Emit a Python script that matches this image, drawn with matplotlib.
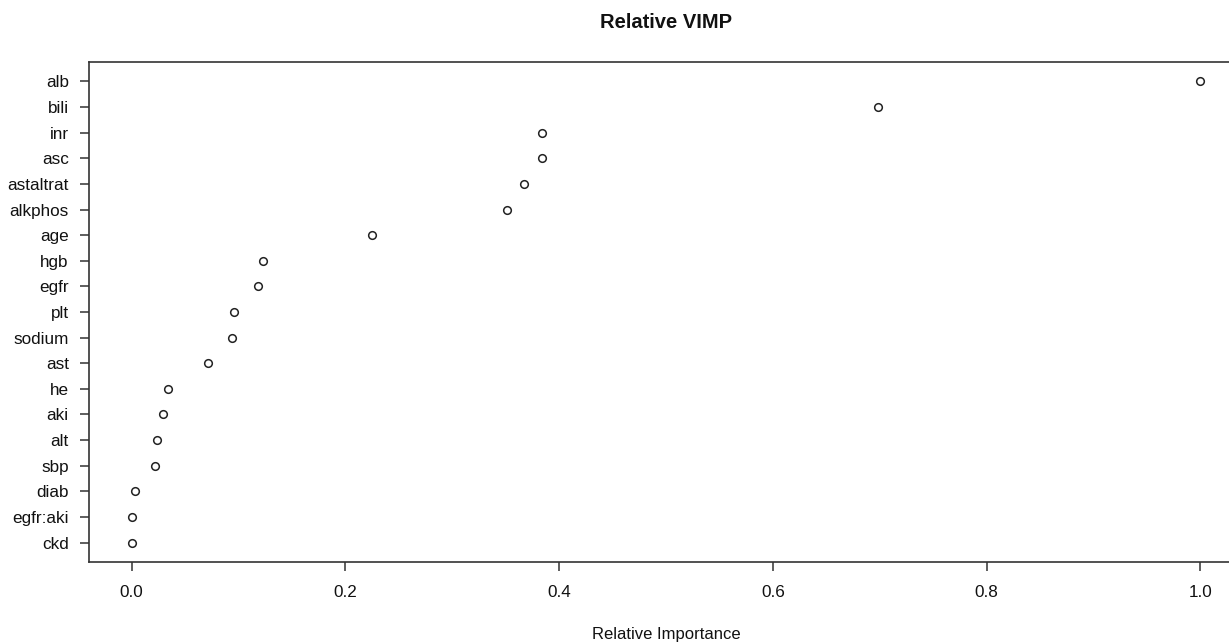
import numpy as np
import matplotlib
matplotlib.use("Agg")
import matplotlib.pyplot as plt

plt.rcParams['font.family'] = ['Liberation Sans', 'DejaVu Sans']

# variables, top to bottom as shown
variables = ['alb', 'bili', 'inr', 'asc', 'astaltrat', 'alkphos', 'age', 'hgb',
             'egfr', 'plt', 'sodium', 'ast', 'he', 'aki', 'alt', 'sbp', 'diab',
             'egfr:aki', 'ckd']
importance = [1.0, 0.698, 0.384, 0.384, 0.367, 0.351, 0.225, 0.1225,
              0.118, 0.096, 0.0935, 0.071, 0.034, 0.029, 0.024, 0.0215, 0.003,
              0.0, 0.0]
xticks = [0.0, 0.2, 0.4, 0.6, 0.8, 1.0]

n = len(variables)
ypos = np.arange(n, 0, -1)

fig = plt.figure(figsize=(12.29, 6.43), dpi=100)
ax = fig.add_axes([89 / 1229, 81 / 643, 1154 / 1229, 500 / 643])

ax.plot(importance, ypos, 'o', mfc='none', mec='#222222', mew=1.1, ms=5.5,
        linestyle='none', clip_on=False)

ax.set_xlim(-0.04, 1.04)
ax.set_ylim(0.24, n + 0.76)
ax.set_yticks(ypos)
ax.set_yticklabels(variables)
ax.set_xticks(xticks)
ax.set_xticklabels([f'{t:.1f}' for t in xticks])

for s in ax.spines.values():
    s.set_color('#333333')
    s.set_linewidth(1.2)
ax.tick_params(axis='both', direction='out', length=6.5, width=1.1,
               color='#333333', labelsize=12.3, labelcolor='#111111')
ax.tick_params(axis='y', pad=8)
ax.tick_params(axis='x', pad=10)

fig.text(666 / 1229, 1 - 635 / 643, 'Relative Importance', ha='center',
         va='center', fontsize=12, color='#111111')
fig.text(666 / 1229, 1 - 22 / 643, 'Relative VIMP', ha='center', va='center',
         fontsize=14.5, fontweight='bold', color='#111111')

fig.savefig('out.png', dpi=100)
